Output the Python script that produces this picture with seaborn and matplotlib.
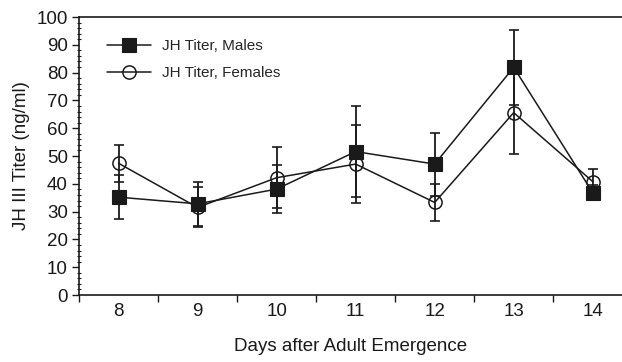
import matplotlib
matplotlib.use("Agg")
import matplotlib.pyplot as plt
import seaborn as sns
import numpy as np
import pandas as pd
from matplotlib.ticker import MultipleLocator

days = [8, 9, 10, 11, 12, 13, 14]
males = [35.2, 32.8, 38.1, 51.6, 47.1, 81.9, 36.8]
males_err = [8.0, 8.0, 8.6, 16.4, 11.3, 13.5, 2.6]
females = [47.4, 31.5, 42.2, 47.1, 33.3, 65.6, 40.8]
females_err = [6.6, 7.2, 11.0, 14.0, 6.6, 14.9, 4.5]

sns.set_style("ticks")
plt.rcParams['font.family'] = ['Liberation Sans', 'DejaVu Sans']

fig = plt.figure(figsize=(6.22, 3.62), dpi=100)
ax = fig.add_axes([0.127, 0.185, 0.873, 0.768])

col = "#1a1a1a"
df_f = pd.DataFrame({"day": days, "val": females})
df_m = pd.DataFrame({"day": days, "val": males})

ax.errorbar(days, females, yerr=females_err, fmt="none", ecolor=col,
            elinewidth=1.3, capsize=3.3, capthick=1.2, zorder=2)
ax.errorbar(days, males, yerr=males_err, fmt="none", ecolor=col,
            elinewidth=1.3, capsize=3.3, capthick=1.2, zorder=2)

sns.lineplot(data=df_f, x="day", y="val", ax=ax, color=col, linewidth=1.1,
             marker="o", markersize=9.5, markerfacecolor="none",
             markeredgecolor=col, markeredgewidth=1.1,
             label="JH Titer, Females", zorder=3)
sns.lineplot(data=df_m, x="day", y="val", ax=ax, color=col, linewidth=1.1,
             marker="s", markersize=9.5, markerfacecolor=col,
             markeredgecolor=col, markeredgewidth=0.8,
             label="JH Titer, Males", zorder=4)

ax.set_xlim(7.5, 14.37)
ax.set_ylim(0, 100)
ax.set_xticks([7.5 + i for i in range(7)])
ax.set_xticklabels([])
ax.set_xticks(days, minor=True)
ax.set_xticklabels([str(d) for d in days], minor=True)
ax.tick_params(axis="x", which="minor", length=0, pad=6, labelsize=13.5, labelcolor=col)
ax.tick_params(axis="x", which="major", length=5, width=1, color=col, direction="out")

ax.yaxis.set_major_locator(MultipleLocator(10))
ax.yaxis.set_minor_locator(MultipleLocator(2))
ax.tick_params(axis="y", which="major", length=5, width=1, color=col, direction="out",
               labelsize=13.5, pad=3, labelcolor=col)
ax.tick_params(axis="y", which="minor", length=3, width=0.8, color=col, direction="inout")

for s in ["top", "left", "bottom", "right"]:
    ax.spines[s].set_color(col)
    ax.spines[s].set_linewidth(1.2)
ax.spines["right"].set_visible(False)

ax.set_xlabel("Days after Adult Emergence", fontsize=13.5, labelpad=13, color=col)
ax.set_ylabel("JH III Titer (ng/ml)", fontsize=13.5, labelpad=5, color=col)

handles, labels = ax.get_legend_handles_labels()
order = [labels.index("JH Titer, Males"), labels.index("JH Titer, Females")]
leg = ax.legend([handles[i] for i in order], [labels[i] for i in order],
                loc="upper left", bbox_to_anchor=(106.7 / 622, 1 - 39 / 362),
                bbox_transform=fig.transFigure, frameon=False, borderpad=0,
                borderaxespad=0, fontsize=11, handlelength=2.9,
                labelspacing=0.87, handletextpad=0.7)

fig.savefig("out.png", dpi=100)
